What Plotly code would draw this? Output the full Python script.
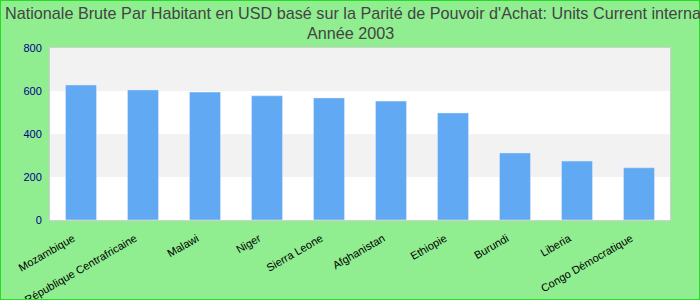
import plotly.graph_objects as go

countries = ["Mozambique", "République Centrafricaine", "Malawi", "Niger", "Sierra Leone",
             "Afghanistan", "Ethiopie", "Burundi", "Liberia", "Congo Démocratique"]
values = [628, 605, 595, 578, 568, 553, 498, 312, 274, 243]
y_ticks = [0, 200, 400, 600, 800]

title_line1 = "Nationale Brute Par Habitant en USD basé sur la Parité de Pouvoir d'Achat: Units Current international $"
title_line2 = "Année 2003"

W, H = 700, 300
ml, mr, mt, mb = 50, 30, 48, 80
pw, ph = W - ml - mr, H - mt - mb

fig = go.Figure(go.Bar(x=countries, y=values, marker_color="#62A9F3", width=0.5))

shapes = []
for lo, hi in [(200, 400), (600, 800)]:
    shapes.append(dict(type="rect", xref="paper", yref="y", x0=0, x1=1, y0=lo, y1=hi,
                       fillcolor="#f2f2f2", line_width=0, layer="below"))
shapes.append(dict(type="rect", xref="paper", yref="paper",
                   x0=-ml / pw, x1=1 + mr / pw, y0=-mb / ph, y1=1 + mt / ph,
                   line=dict(color="#22dd22", width=2), fillcolor="rgba(0,0,0,0)"))

fig.update_layout(
    width=W, height=H,
    margin=dict(l=ml, r=mr, t=mt, b=mb),
    paper_bgcolor="#90EE90", plot_bgcolor="white",
    font=dict(family="Liberation Sans, Arial, sans-serif"),
    shapes=shapes,
    showlegend=False,
    annotations=[
        dict(text=title_line1, xref="paper", yref="paper", x=-ml / pw + 3 / pw, xanchor="left",
             y=1 + (mt - 2) / ph, yanchor="top", showarrow=False,
             font=dict(size=16.2, color="#444444")),
        dict(text=title_line2, xref="paper", yref="paper", x=(W / 2 - ml) / pw, xanchor="center",
             y=1 + (mt - 22) / ph, yanchor="top", showarrow=False,
             font=dict(size=16.2, color="#444444")),
    ],
)
fig.update_xaxes(tickangle=-30, tickfont=dict(size=11, color="black"), automargin=False,
                 ticklabelshift=-8, ticklabelstandoff=7,
                 showline=True, linecolor="#d0d0d0", linewidth=1, mirror=True, showgrid=False)
fig.update_yaxes(range=[0, 800], tickvals=y_ticks, tickfont=dict(size=11, color="darkblue"),
                 automargin=False, ticklabelstandoff=5,
                 showline=True, linecolor="#d0d0d0", linewidth=1, mirror=True, showgrid=False,
                 zeroline=False)

fig.write_html("out.html")
